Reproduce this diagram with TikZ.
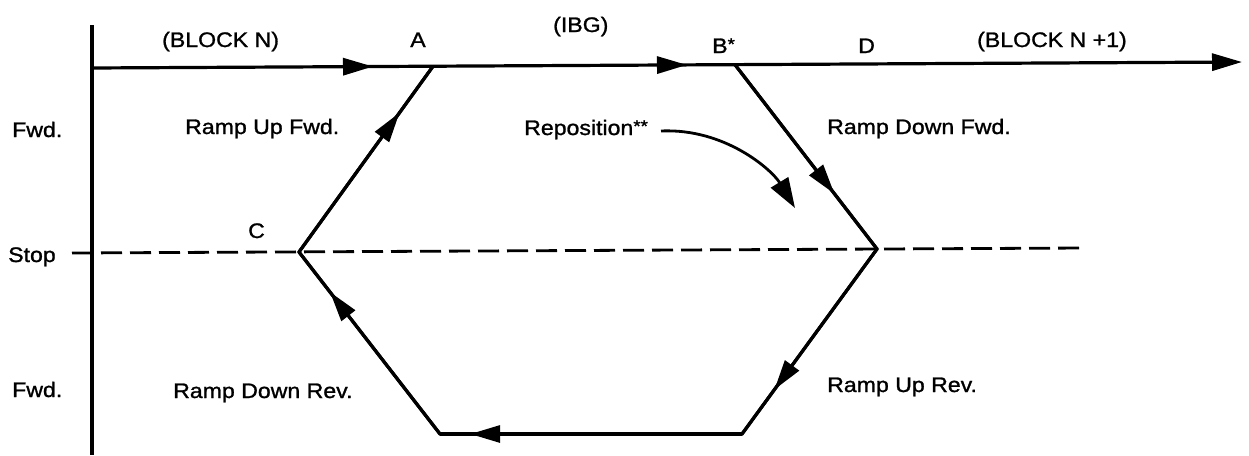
\documentclass[tikz,border=0pt]{standalone}
\usepackage{fontspec}
\setmainfont{Liberation Sans}[FakeStretch=1.1,FakeBold=1.2]
\usetikzlibrary{arrows.meta,decorations.markings}
\tikzset{
  lbl/.style={inner sep=0pt, anchor=base west, font=\fontsize{21}{25}\selectfont},
  lblc/.style={inner sep=0pt, anchor=base, font=\fontsize{21}{25}\selectfont},
  thick line/.style={line width=3.2pt, line join=miter},
  midarrow/.style={postaction={decorate}, decoration={markings, mark=at position #1 with {\arrow{Triangle[length=30pt,width=17pt]}}}},
  stopline/.style={line width=2.8pt, dash pattern=on 21pt off 8pt},
}
\newcommand{\supstar}[1]{\raisebox{3pt}{\fontsize{17}{17}\selectfont #1}}
\begin{document}
\begin{tikzpicture}[x=1pt,y=-1pt]
\useasboundingbox (0,0) rectangle (1249,455);
% key points
\coordinate (axT) at (92,25);
\coordinate (axB) at (92,455);
\coordinate (O) at (92,68);
\coordinate (E) at (1242,62);
\coordinate (A) at (433,66.3);
\coordinate (B) at (735,64.7);
\coordinate (R) at (877,249);
\coordinate (BR) at (742,434);
\coordinate (BL) at (440,434);
\coordinate (C) at (299,252);
\coordinate (S0) at (72,253);
\coordinate (S1) at (1085,248);
\coordinate (RS) at (661,131);
\coordinate (RT) at (795,208);

% axis
\draw[thick line] (axT) -- (axB);
% top line with mid arrows
\draw[thick line, -{Triangle[length=30pt,width=17pt]},
  postaction={decorate}, decoration={markings,
    mark=at position 281pt with {\arrow{Triangle[length=30pt,width=17pt]}},
    mark=at position 595pt with {\arrow{Triangle[length=30pt,width=17pt]}}}]
  (O) -- (E);
% stop line
\draw[stopline] (S0) -- (S1);
% hexagon path
\draw[thick line] (B) -- (R) -- (BR) -- (BL) -- (C) -- (A);
\draw[thick line, midarrow=0.70] (B) -- (R);
\draw[thick line, midarrow=0.76] (R) -- (BR);
\draw[thick line, midarrow=0.90] (BR) -- (BL);
\draw[thick line, midarrow=0.78] (BL) -- (C);
\draw[thick line, midarrow=0.75] (C) -- (A);
% reposition curve
\draw[line width=2.8pt, -{Triangle[length=30pt,width=20pt]}]
  (RS) .. controls (725,128) and (772,170) .. (RT);

% labels
\node[lbl] (blkn) at (162,47) {(BLOCK N)};
\node[lblc] (la) at (418,47) {A};
\node[lbl] (ibg) at (553,32) {(IBG)};
\node[lbl] (lb) at (712,53) {B\supstar{*}};
\node[lbl] (ld) at (858,53) {D};
\node[lbl] (blkn1) at (977,47) {(BLOCK N +1)};
\node[lbl] (fwd1) at (12,137) {Fwd.};
\node[lbl] (rupf) at (185,134) {Ramp Up Fwd.};
\node[lbl] (rep) at (524,135) {Reposition\supstar{**}};
\node[lbl] (rdnf) at (827,134) {Ramp Down Fwd.};
\node[lbl] (stop) at (8,262) {Stop};
\node[lbl] (lc) at (248,238) {C};
\node[lbl] (fwd2) at (12,397) {Fwd.};
\node[lbl] (rdnr) at (173,398) {Ramp Down Rev.};
\node[lbl] (rupr) at (827,392) {Ramp Up Rev.};
\end{tikzpicture}
\end{document}
